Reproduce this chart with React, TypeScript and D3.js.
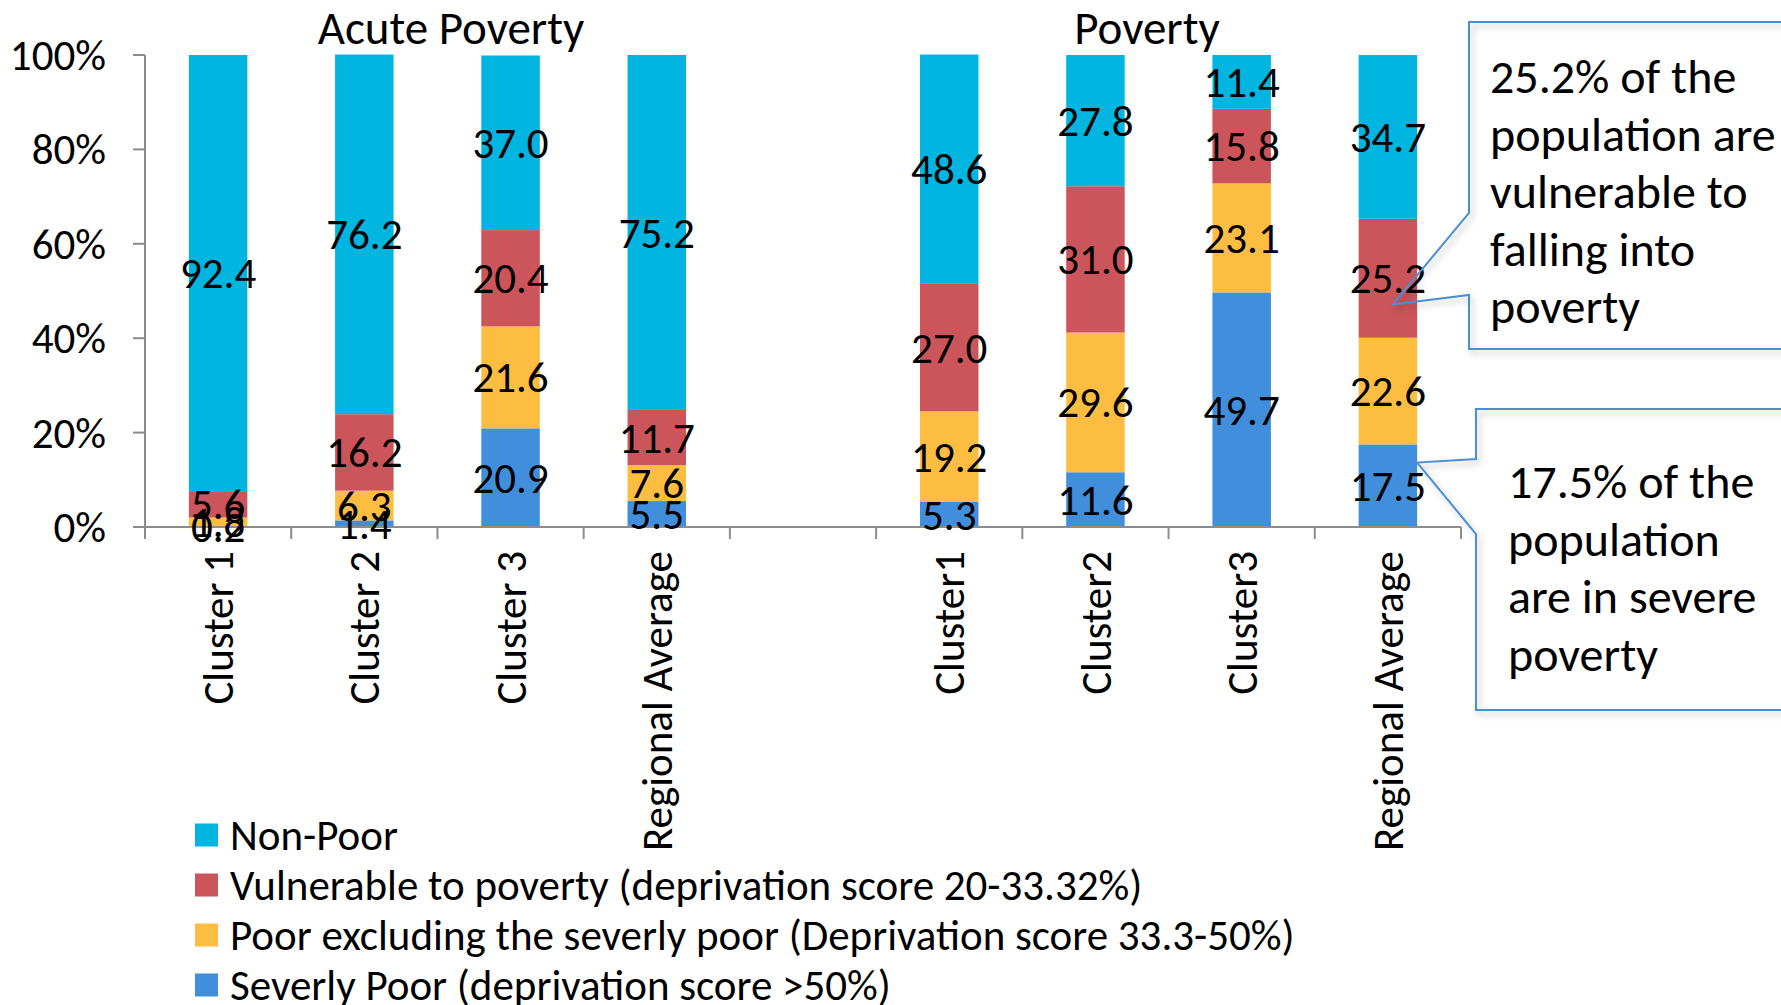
import React from 'react';
import * as d3 from 'd3';

// categories along the x axis (index 4 is the empty gap between the two groups)
const categories = ['Cluster 1', 'Cluster 2', 'Cluster 3', 'Regional Average', '', 'Cluster1', 'Cluster2', 'Cluster3', 'Regional Average'];

// series values, bottom to top
const severelyPoor = [0.2, 1.4, 20.9, 5.5, 0, 5.3, 11.6, 49.7, 17.5];
const poorExcl = [1.8, 6.3, 21.6, 7.6, 0, 19.2, 29.6, 23.1, 22.6];
const vulnerable = [5.6, 16.2, 20.4, 11.7, 0, 27.0, 31.0, 15.8, 25.2];
const nonPoor = [92.4, 76.2, 37.0, 75.2, 0, 48.6, 27.8, 11.4, 34.7];

const seriesNames = [
  'Severly Poor (deprivation score >50%)',
  'Poor excluding the severly poor (Deprivation score 33.3-50%)',
  'Vulnerable to poverty (deprivation score 20-33.32%)',
  'Non-Poor',
];
const seriesColors = ['#418edc', '#fdbd40', '#cc545b', '#00b5e0'];

const yTicks = [0, 20, 40, 60, 80, 100];

const FONT = 'Carlito, Calibri, Lato, sans-serif';

const App = () => {
  const W = 1781;
  const H = 1005;
  const x0 = 145;
  const x1 = 1461;
  const yBase = 527;
  const yTop = 55;
  const fs = 43;

  const idx = categories.map((_, i) => i);
  const x = d3.scaleBand<number>().domain(idx).range([x0, x1]).paddingInner(0.6).paddingOuter(0.3);
  const band = d3.scaleBand<number>().domain(idx).range([x0, x1]);
  const y = d3.scaleLinear().domain([0, 100]).range([yBase, yTop]);

  const rows = categories.map((c, i) => ({
    i,
    s0: severelyPoor[i],
    s1: poorExcl[i],
    s2: vulnerable[i],
    s3: nonPoor[i],
  }));
  const stack = d3.stack<any>().keys(['s0', 's1', 's2', 's3'])(rows);

  const labelFmt = d3.format('.1f');

  // callout anchors derived from the Regional Average (poverty) bar
  const ra = 8;
  const raCenter = (x(ra) as number) + x.bandwidth() / 2;
  const raRight = (x(ra) as number) + x.bandwidth();
  const vulLow = severelyPoor[ra] + poorExcl[ra];
  const tip1 = { x: raCenter + 5, y: y(vulLow + vulnerable[ra] * 0.28) };
  const tip2 = { x: raRight, y: y(severelyPoor[ra] * 0.78) };

  const box1 = { x: 1469, y: 22, h: 327 };
  const box2 = { x: 1476, y: 409, h: 301 };

  const callout1 = `M${box1.x},${box1.y} H${W + 30} V${box1.y + box1.h} H${box1.x} V295 L${tip1.x},${tip1.y} L${box1.x},213 Z`;
  const callout2 = `M${box2.x},${box2.y} H${W + 30} V${box2.y + box2.h} H${box2.x} V534 L${tip2.x},${tip2.y} L${box2.x},459 Z`;

  const text1 = ['25.2% of the', 'population are', 'vulnerable to', 'falling into', 'poverty'];
  const text2 = ['17.5% of the', 'population', 'are in severe', 'poverty'];

  const legendOrder = [3, 2, 1, 0];

  return (
    <svg width={W} height={H} style={{ position: 'absolute', left: 0, top: 0, background: '#fff' }} fontFamily={FONT}>
      <defs>
        <filter id="shadow" x="-10%" y="-10%" width="130%" height="130%">
          <feDropShadow dx="3" dy="4" stdDeviation="3" floodColor="#000" floodOpacity="0.25" />
        </filter>
      </defs>

      {/* titles */}
      <text x={451} y={44} textAnchor="middle" fontSize={47} fill="#000">Acute Poverty</text>
      <text x={1147} y={44} textAnchor="middle" fontSize={47} fill="#000">Poverty</text>

      {/* y axis */}
      <line x1={x0} x2={x0} y1={y(0)} y2={y(100)} stroke="#8c8c8c" strokeWidth={2} />
      {yTicks.map(t => (
        <g key={t}>
          <line x1={x0 - 12} x2={x0} y1={y(t)} y2={y(t)} stroke="#8c8c8c" strokeWidth={2} />
          <text x={106} y={y(t)} dy="0.35em" textAnchor="end" fontSize={fs} fill="#000">{t}%</text>
        </g>
      ))}

      {/* bars */}
      {stack.map((s, si) => (
        <g key={si} fill={seriesColors[si]}>
          {s.map((d, i) => (d[1] - d[0] > 0 ? (
            <rect key={i} x={x(i)} width={x.bandwidth()} y={y(d[1])} height={y(d[0]) - y(d[1])} />
          ) : null))}
        </g>
      ))}

      {/* x axis */}
      <line x1={x0} x2={x1} y1={yBase} y2={yBase} stroke="#8c8c8c" strokeWidth={2} />
      {d3.range(categories.length + 1).map(k => {
        const tx = x0 + k * band.bandwidth();
        return <line key={k} x1={tx} x2={tx} y1={yBase} y2={yBase + 12} stroke="#8c8c8c" strokeWidth={2} />;
      })}
      {categories.map((c, i) => {
        const cx = (band(i) as number) + band.bandwidth() / 2;
        return c ? (
          <text key={i} transform={`translate(${cx},551) rotate(-90)`} textAnchor="end" dy="0.35em" fontSize={fs} fill="#000">{c}</text>
        ) : null;
      })}

      {/* data labels */}
      {stack.map((s, si) => (
        <g key={si}>
          {s.map((d, i) => (d[1] - d[0] > 0 ? (
            <text key={i} x={(x(i) as number) + x.bandwidth() / 2} y={y((d[0] + d[1]) / 2)} dy="0.35em" textAnchor="middle" fontSize={fs} fill="#000">
              {labelFmt(d[1] - d[0])}
            </text>
          ) : null))}
        </g>
      ))}

      {/* legend */}
      {legendOrder.map((si, k) => {
        const ly = 835 + k * 50;
        return (
          <g key={si}>
            <rect x={195} y={ly - 11.5} width={23} height={23} fill={seriesColors[si]} />
            <text x={230} y={ly} dy="0.35em" fontSize={fs} fill="#000">{seriesNames[si]}</text>
          </g>
        );
      })}

      {/* callouts */}
      <path d={callout1} fill="none" stroke="#4a8fd8" strokeWidth={2} filter="url(#shadow)" />
      {text1.map((t, k) => (
        <text key={k} x={1490} y={93 + k * 57.5} fontSize={48} fill="#000">{t}</text>
      ))}
      <path d={callout2} fill="none" stroke="#4a8fd8" strokeWidth={2} filter="url(#shadow)" />
      {text2.map((t, k) => (
        <text key={k} x={1508} y={498 + k * 57.5} fontSize={48} fill="#000">{t}</text>
      ))}
    </svg>
  );
};

export default App;
